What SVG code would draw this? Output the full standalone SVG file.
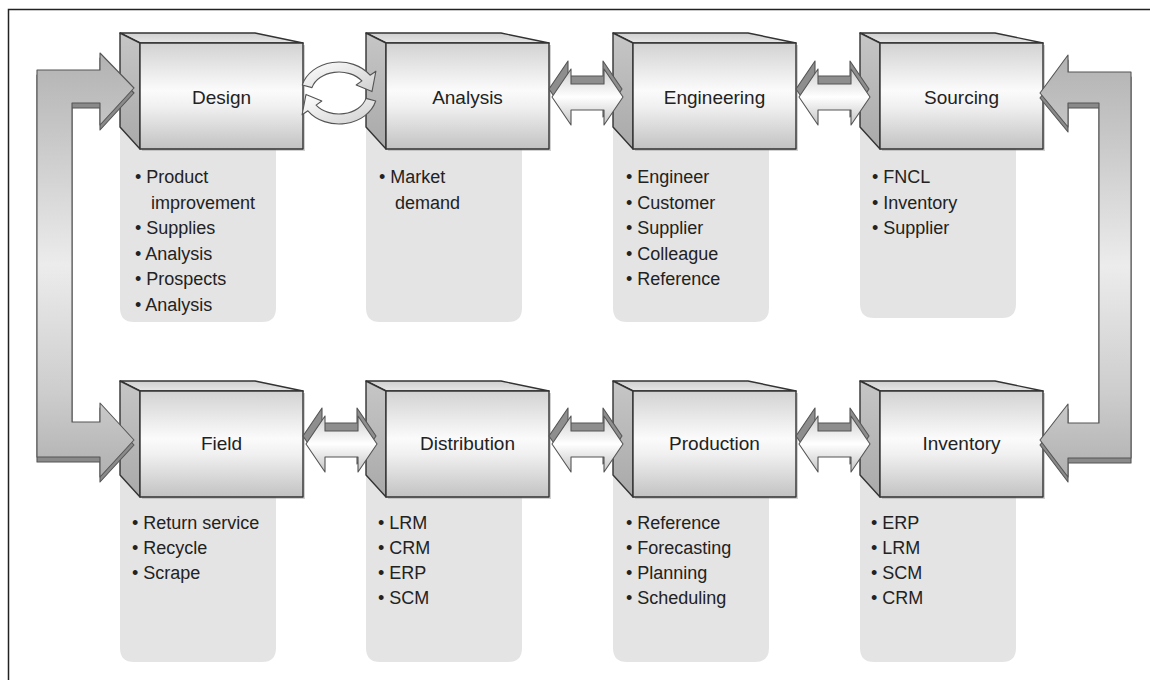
<svg xmlns="http://www.w3.org/2000/svg" xmlns:xlink="http://www.w3.org/1999/xlink" width="1150" height="680" viewBox="0 0 1150 680">
  <style>
    .title { font-family: "Liberation Sans", Arial, sans-serif; font-size: 19px; fill: #222; text-anchor: middle; }
    .item { font-family: "Liberation Sans", Arial, sans-serif; font-size: 18px; fill: #222; }
    .panel { fill: #e4e4e4; }
    .edge { stroke: #333; stroke-width: 1.4; stroke-linejoin: round; }
    .conn { stroke: #555; stroke-width: 1.1; stroke-linejoin: round; }
  </style>
  <defs>
    <linearGradient id="frontGrad" x1="0" y1="0" x2="0" y2="1">
      <stop offset="0" stop-color="#d2d2d2"/>
      <stop offset="0.45" stop-color="#fbfbfb"/>
      <stop offset="0.6" stop-color="#f0f0f0"/>
      <stop offset="1" stop-color="#c2c2c2"/>
    </linearGradient>
    <linearGradient id="topGrad" x1="0" y1="0" x2="0" y2="1">
      <stop offset="0" stop-color="#cfcfcf"/>
      <stop offset="1" stop-color="#e6e6e6"/>
    </linearGradient>
    <linearGradient id="sideGrad" x1="0" y1="0" x2="0" y2="1">
      <stop offset="0" stop-color="#c6c6c6"/>
      <stop offset="1" stop-color="#a9a9a9"/>
    </linearGradient>
    <linearGradient id="arrowGrad" x1="0" y1="0" x2="0" y2="1">
      <stop offset="0" stop-color="#cfcfcf"/>
      <stop offset="0.5" stop-color="#ffffff"/>
      <stop offset="1" stop-color="#c4c4c4"/>
    </linearGradient>
    <linearGradient id="bracketGrad" x1="0" y1="0" x2="0" y2="1">
      <stop offset="0" stop-color="#b2b2b2"/>
      <stop offset="0.2" stop-color="#c8c8c8"/>
      <stop offset="0.5" stop-color="#ececec"/>
      <stop offset="0.8" stop-color="#cdcdcd"/>
      <stop offset="1" stop-color="#b0b0b0"/>
    </linearGradient>
    <linearGradient id="cycleGrad" x1="0" y1="0" x2="1" y2="1">
      <stop offset="0" stop-color="#ffffff"/>
      <stop offset="1" stop-color="#cfcfcf"/>
    </linearGradient>

    <!-- 3D block used for every stage -->
    <g id="cube">
      <rect x="22" y="12" width="163" height="106" fill="#9a9a9a" opacity="0.45"/>
      <path d="M0,0 L135,0 L183,10 L20,10 Z" fill="url(#topGrad)" class="edge"/>
      <path d="M0,0 L20,10 L20,116 L0,94 Z" fill="url(#sideGrad)" class="edge"/>
      <rect x="20" y="10" width="163" height="106" fill="url(#frontGrad)" class="edge"/>
    </g>

    <!-- two-way block arrow between neighbouring stages -->
    <g id="twoWay">
      <path d="M0,0 L19,-28 L19,-13 L54,-13 L54,-28 L73,0 L54,28 L54,13 L19,13 L19,28 Z" transform="translate(-1,-8)" fill="#8e8e8e" class="conn"/>
      <path d="M2,0 L21,-28 L21,-13 L54,-13 L54,-28 L73,0 L54,28 L54,13 L21,13 L21,28 Z" fill="url(#arrowGrad)" class="conn"/>
    </g>
  </defs>

  <rect width="1150" height="680" fill="#ffffff"/>
  <path d="M8.5,680 V9.5 H1150" fill="none" stroke="#222" stroke-width="1.5"/>

  <!-- top row -->
  <g id="design">
    <path class="panel" d="M120,125 H276 V308 Q276,322 262,322 H134 Q120,322 120,308 Z"/>
    <use xlink:href="#cube" x="120" y="33"/>
    <text class="title" x="221.5" y="104">Design</text>
    <text class="item" x="135" y="183">• Product<tspan x="151" y="208.5">improvement</tspan><tspan x="135" y="234">• Supplies</tspan><tspan x="135" y="259.5">• Analysis</tspan><tspan x="135" y="285">• Prospects</tspan><tspan x="135" y="310.5">• Analysis</tspan></text>
  </g>
  <g id="analysis">
    <path class="panel" d="M366,125 H522 V308 Q522,322 508,322 H380 Q366,322 366,308 Z"/>
    <use xlink:href="#cube" x="366" y="33"/>
    <text class="title" x="467.5" y="104">Analysis</text>
    <text class="item" x="379" y="183">• Market<tspan x="395" y="208.5">demand</tspan></text>
  </g>
  <g id="engineering">
    <path class="panel" d="M613,125 H769 V308 Q769,322 755,322 H627 Q613,322 613,308 Z"/>
    <use xlink:href="#cube" x="613" y="33"/>
    <text class="title" x="714.5" y="104">Engineering</text>
    <text class="item" x="626" y="183">• Engineer<tspan x="626" y="208.5">• Customer</tspan><tspan x="626" y="234">• Supplier</tspan><tspan x="626" y="259.5">• Colleague</tspan><tspan x="626" y="285">• Reference</tspan></text>
  </g>
  <g id="sourcing">
    <path class="panel" d="M860,125 H1016 V304 Q1016,318 1002,318 H874 Q860,318 860,304 Z"/>
    <use xlink:href="#cube" x="860" y="33"/>
    <text class="title" x="961.5" y="104">Sourcing</text>
    <text class="item" x="872" y="183">• FNCL<tspan x="872" y="208.5">• Inventory</tspan><tspan x="872" y="234">• Supplier</tspan></text>
  </g>

  <!-- bottom row -->
  <g id="field">
    <path class="panel" d="M120,473 H276 V648 Q276,662 262,662 H134 Q120,662 120,648 Z"/>
    <use xlink:href="#cube" x="120" y="381"/>
    <text class="title" x="221.5" y="450">Field</text>
    <text class="item" x="132" y="529">• Return service<tspan x="132" y="554">• Recycle</tspan><tspan x="132" y="579">• Scrape</tspan></text>
  </g>
  <g id="distribution">
    <path class="panel" d="M366,473 H522 V648 Q522,662 508,662 H380 Q366,662 366,648 Z"/>
    <use xlink:href="#cube" x="366" y="381"/>
    <text class="title" x="467.5" y="450">Distribution</text>
    <text class="item" x="378" y="529">• LRM<tspan x="378" y="554">• CRM</tspan><tspan x="378" y="579">• ERP</tspan><tspan x="378" y="604">• SCM</tspan></text>
  </g>
  <g id="production">
    <path class="panel" d="M613,473 H769 V648 Q769,662 755,662 H627 Q613,662 613,648 Z"/>
    <use xlink:href="#cube" x="613" y="381"/>
    <text class="title" x="714.5" y="450">Production</text>
    <text class="item" x="626" y="529">• Reference<tspan x="626" y="554">• Forecasting</tspan><tspan x="626" y="579">• Planning</tspan><tspan x="626" y="604">• Scheduling</tspan></text>
  </g>
  <g id="inventory">
    <path class="panel" d="M860,473 H1016 V648 Q1016,662 1002,662 H874 Q860,662 860,648 Z"/>
    <use xlink:href="#cube" x="860" y="381"/>
    <text class="title" x="961.5" y="450">Inventory</text>
    <text class="item" x="871" y="529">• ERP<tspan x="871" y="554">• LRM</tspan><tspan x="871" y="579">• SCM</tspan><tspan x="871" y="604">• CRM</tspan></text>
  </g>

  <g id="connectors">
    <!-- Design / Analysis cycle -->
    <path d="M302.3,85 A38,31 0 0 1 370.1,75.2 L375.9,71.2 L372,91.6 L356.2,85 L361.9,80.9 A28,21 0 0 0 312,87.6 Z" fill="url(#cycleGrad)" class="conn"/>
    <path d="M375.7,101 A38,31 0 0 1 307.9,110.8 L302.1,114.8 L306,94.4 L321.8,101 L316.1,105.1 A28,21 0 0 0 366,98.4 Z" fill="url(#cycleGrad)" class="conn"/>

    <!-- two-way links -->
    <use xlink:href="#twoWay" x="550" y="97"/>
    <use xlink:href="#twoWay" x="797" y="97"/>
    <use xlink:href="#twoWay" x="304" y="444"/>
    <use xlink:href="#twoWay" x="550" y="444"/>
    <use xlink:href="#twoWay" x="797" y="444"/>

    <!-- left return bracket: Field / Design -->
    <path d="M37,70 H100 V53 L134,88 L100,125 V103 H72 V422 H100 V403 L134,440 L100,477 V457 H37 Z" transform="translate(0,5)" fill="#8a8a8a" class="conn"/>
    <path d="M37,70 H100 V53 L134,88 L100,125 V103 H72 V422 H100 V403 L134,440 L100,477 V457 H37 Z" fill="url(#bracketGrad)" class="conn"/>

    <!-- right return bracket: Sourcing / Inventory -->
    <path d="M1131,72 H1068 V55 L1040,93 L1068,127 V103 H1099 V423 H1068 V404 L1040,440 L1068,477 V458 H1131 Z" transform="translate(0,5)" fill="#8a8a8a" class="conn"/>
    <path d="M1131,72 H1068 V55 L1040,93 L1068,127 V103 H1099 V423 H1068 V404 L1040,440 L1068,477 V458 H1131 Z" fill="url(#bracketGrad)" class="conn"/>
  </g>
</svg>
